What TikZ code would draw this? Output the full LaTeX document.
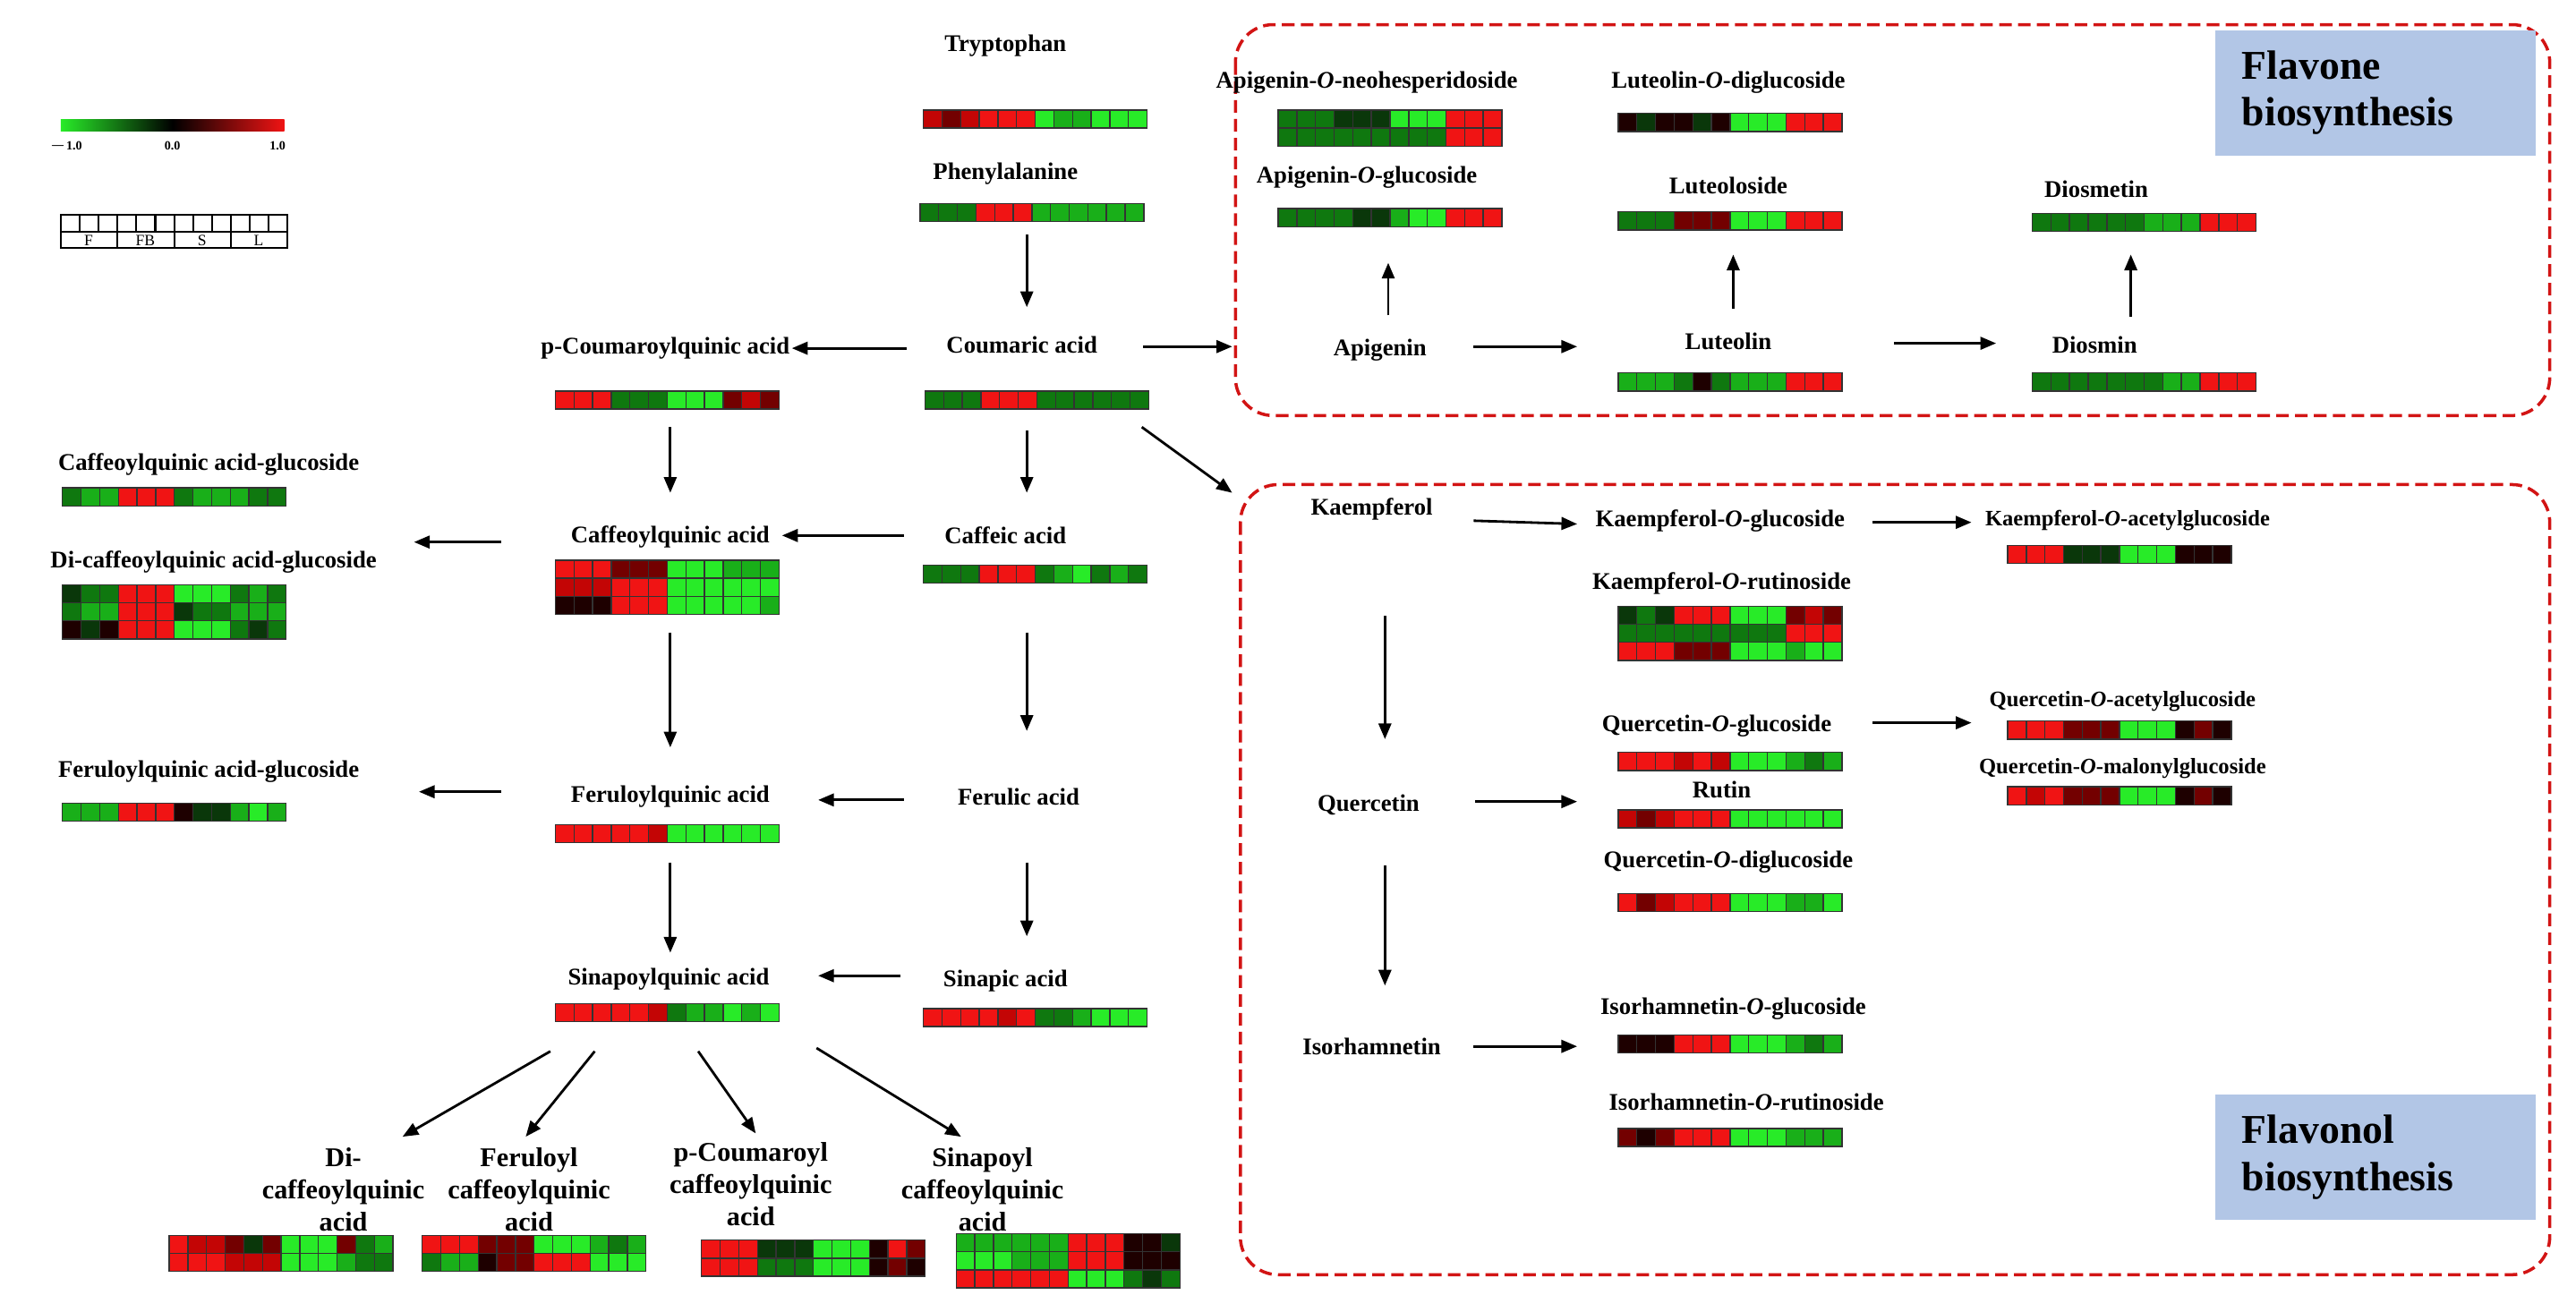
\documentclass[tikz,border=0pt]{standalone}
\usepackage{fontspec}
\setmainfont{Liberation Serif}
\usetikzlibrary{arrows.meta,calc}
\definecolor{c1}{RGB}{40,235,40}
\definecolor{c2}{RGB}{25,175,25}
\definecolor{c3}{RGB}{15,120,15}
\definecolor{c4}{RGB}{10,55,10}
\definecolor{c5}{RGB}{30,0,0}
\definecolor{c6}{RGB}{115,0,0}
\definecolor{c7}{RGB}{195,5,5}
\definecolor{c8}{RGB}{240,20,20}
\definecolor{boxred}{RGB}{210,20,20}
\definecolor{titleblue}{RGB}{178,198,230}
\newcommand\hm[3]{\foreach \c [count=\i from 0] in {#3}{\draw[hmcell,fill=c\c] (#1+\i*11.35,#2) rectangle ++(11.35,11);}}
\begin{document}
\begin{tikzpicture}[x=0.018355cm,y=-0.018355cm,
  lab/.style={font=\fontsize{7.6}{9}\selectfont\bfseries,inner sep=1pt},
  slab/.style={font=\fontsize{7}{9}\selectfont\bfseries,inner sep=1pt},
  blab/.style={font=\fontsize{8.6}{10.2}\selectfont\bfseries,align=center,inner sep=1pt},
  hmcell/.style={draw=black!80,line width=0.4pt},
  arr/.style={-{Triangle[length=5pt,width=4pt]},line width=0.8pt},
  dbox/.style={draw=boxred,dashed,line width=1pt,rounded corners=12pt,dash pattern=on 4pt off 2pt},
  tbox/.style={fill=titleblue,font=\fontsize{13}{15}\selectfont\bfseries,align=left,anchor=north west,inner xsep=0.3cm,inner ysep=0pt,minimum width=3.58cm,minimum height=1.4cm,text width=2.98cm}]
\useasboundingbox (0,0) rectangle (1568,798.2);
% legend
\shade[left color=c1,right color=c8,middle color=black] (37,73) rectangle (173,80);
\node[font=\fontsize{4}{5}\selectfont\bfseries] (lm) at (40,89) {$-$1.0};
\node[font=\fontsize{4}{5}\selectfont\bfseries] (l0) at (105,89) {0.0};
\node[font=\fontsize{4}{5}\selectfont\bfseries] (lp) at (169,89) {1.0};
\draw[line width=0.6pt] (37,131) rectangle (175,151) (37,141) -- (175,141);
\foreach \k in {1,...,11}{\draw[line width=0.6pt] (37+\k*11.5,131) -- (37+\k*11.5,141);}
\foreach \k in {1,2,3}{\draw[line width=0.6pt] (37+\k*34.5,141) -- (37+\k*34.5,151);}
\foreach \t [count=\k from 0] in {F,FB,S,L}{\node[font=\fontsize{5}{6}\selectfont] (lg\k) at (54+\k*34.5,146.5) {\t};}
% boxes
\draw[dbox] (752,15) rectangle (1552,253);
\draw[dbox] (755,295) rectangle (1552,776);
\node[tbox] (fl1) at (1348,18) {Flavone\\biosynthesis};
\node[tbox] (fl2) at (1348,666) {Flavonol\\biosynthesis};
% labels central
\node[lab] (tryp) at (612,28) {Tryptophan};
\hm{562}{67}{7,6,7,8,8,8,1,2,2,1,1,1}
\node[lab] (phe) at (612,106) {Phenylalanine};
\hm{560}{124}{3,3,3,8,8,8,2,2,2,2,2,2}
\node[lab] (coum) at (622,210) {Coumaric\ acid};
\hm{563}{238}{3,3,3,8,8,8,3,3,3,3,3,3}
\node[lab] (pcq) at (405,212) {p-Coumaroylquinic acid};
\hm{338}{238}{8,8,8,3,3,3,1,1,1,6,7,6}
\node[lab] (caf) at (612,326) {Caffeic\ acid};
\hm{562}{344}{3,3,3,8,8,8,3,2,1,3,2,3}
\node[lab] (cq) at (408,327) {Caffeoylquinic\ acid};
\hm{338}{341}{8,8,8,6,6,6,1,1,1,2,2,2}
\hm{338}{352}{7,7,7,8,8,8,1,1,1,1,1,1}
\hm{338}{363}{5,5,5,8,8,8,1,1,1,1,1,2}
\node[lab] (cqg) at (127,283) {Caffeoylquinic\ acid-glucoside};
\hm{38}{297}{3,2,2,8,8,8,3,2,2,2,3,3}
\node[lab] (dcqg) at (130,342) {Di-caffeoylquinic\ acid-glucoside};
\hm{38}{356}{4,3,3,8,8,8,1,1,1,3,2,3}
\hm{38}{367}{3,2,2,8,8,8,4,3,3,2,2,2}
\hm{38}{378}{5,4,5,8,8,8,1,1,1,3,4,3}
\node[lab] (fer) at (620,485) {Ferulic acid};
\node[lab] (fq) at (408,485) {Feruloylquinic\ acid};
\hm{338}{502}{8,8,8,8,8,7,1,1,1,1,1,1}
\node[lab] (fqg) at (127,470) {Feruloylquinic\ acid-glucoside};
\hm{38}{489}{2,2,2,8,8,8,5,4,4,2,1,2}
\node[lab] (sin) at (612,597) {Sinapic acid};
\hm{562}{614}{8,8,8,8,7,8,3,3,2,1,1,1}
\node[lab] (sq) at (407,596) {Sinapoylquinic\ acid};
\hm{338}{611}{8,8,8,8,8,7,3,2,2,1,2,1}
\node[blab] (dcq) at (209,724) {Di-\\caffeoylquinic\\acid};
\hm{103}{752}{8,7,7,6,4,6,1,1,1,6,3,2}
\hm{103}{763}{8,8,8,7,7,7,1,1,1,2,3,3}
\node[blab] (fcq) at (322,724) {Feruloyl\\caffeoylquinic\\acid};
\hm{257}{752}{8,8,8,6,6,6,1,1,1,2,3,2}
\hm{257}{763}{3,2,2,5,6,6,8,8,8,1,1,1}
\node[blab] (pcc) at (457,721) {p-Coumaroyl\\caffeoylquinic\\acid};
\hm{427}{755}{8,8,8,4,4,4,1,1,1,5,8,6}
\hm{427}{766}{8,8,8,3,3,3,1,1,1,5,6,5}
\node[blab] (scq) at (598,724) {Sinapoyl\\caffeoylquinic\\acid};
\hm{582}{751}{2,2,2,2,2,2,8,8,8,5,5,4}
\hm{582}{762}{1,1,1,2,2,2,8,8,8,5,5,5}
\hm{582}{773}{8,8,8,8,8,8,1,1,1,3,4,3}
% flavone
\node[lab] (aneo) at (832,50) {Apigenin-\textit{O}-neohesperidoside};
\hm{778}{67}{3,3,3,4,4,4,1,1,1,8,8,8}
\hm{778}{78}{3,3,3,3,3,3,3,3,3,8,8,8}
\node[lab] (aglu) at (832,108) {Apigenin-\textit{O}-glucoside};
\hm{778}{127}{3,3,3,3,4,4,2,1,1,8,8,8}
\node[lab] (api) at (840,213) {Apigenin};
\node[lab] (ldig) at (1052,50) {Luteolin-\textit{O}-diglucoside};
\hm{985}{69}{5,4,5,5,4,5,1,1,1,8,8,8}
\node[lab] (lut) at (1052,113) {Luteoloside};
\hm{985}{129}{3,3,3,6,6,6,1,1,1,8,8,8}
\node[lab] (luteolin) at (1052,208) {Luteolin};
\hm{985}{227}{2,2,2,3,5,3,2,2,2,8,8,8}
\node[lab] (dmt) at (1276,115) {Diosmetin};
\hm{1237}{130}{3,3,3,3,3,3,2,2,2,8,8,8}
\node[lab] (dmn) at (1275,210) {Diosmin};
\hm{1237}{227}{3,3,3,3,3,3,3,2,2,8,8,8}
% flavonol
\node[lab] (kae) at (835,310) {Kaempferol};
\node[lab] (kglu) at (1047,317) {Kaempferol-\textit{O}-glucoside};
\node[slab] (kac) at (1295,317) {Kaempferol-\textit{O}-acetylglucoside};
\hm{1222}{332}{8,8,8,4,4,4,1,1,1,5,5,5}
\node[lab] (krut) at (1048,355) {Kaempferol-\textit{O}-rutinoside};
\hm{985}{369}{4,3,4,8,8,8,1,1,1,6,7,6}
\hm{985}{380}{3,3,3,3,3,3,3,3,3,8,8,8}
\hm{985}{391}{8,8,8,6,6,6,1,1,1,2,1,1}
\node[lab] (que) at (833,490) {Quercetin};
\node[lab] (qglu) at (1045,442) {Quercetin-\textit{O}-glucoside};
\hm{985}{458}{8,8,8,7,8,7,1,1,1,2,3,2}
\node[lab] (rut) at (1048,481) {Rutin};
\hm{985}{493}{7,6,7,8,8,8,1,1,1,1,1,1}
\node[lab] (qdig) at (1052,525) {Quercetin-\textit{O}-diglucoside};
\hm{985}{544}{8,6,7,8,8,8,1,1,1,2,2,1}
\node[slab] (qac) at (1292,427) {Quercetin-\textit{O}-acetylglucoside};
\hm{1222}{439}{8,8,8,6,6,6,1,1,1,5,6,5}
\node[slab] (qmal) at (1292,468) {Quercetin-\textit{O}-malonylglucoside};
\hm{1222}{479}{8,7,8,6,6,6,1,1,1,5,6,5}
\node[lab] (iso) at (835,637) {Isorhamnetin};
\node[lab] (iglu) at (1055,614) {Isorhamnetin-\textit{O}-glucoside};
\hm{985}{630}{5,5,5,8,8,8,1,1,1,2,3,2}
\node[lab] (irut) at (1063,671) {Isorhamnetin-\textit{O}-rutinoside};
\hm{985}{687}{6,5,6,8,8,8,1,1,1,2,2,2}
% arrows
\draw[arr] (625,143) -- (625,187);
\draw[arr] (552,212) -- (482,212);
\draw[arr] (696,211) -- (750,211);
\draw[arr] (695,260) -- (750,300);
\draw[arr] (625,262) -- (625,300);
\draw[arr] (550,326) -- (476,326);
\draw[arr] (408,260) -- (408,300);
\draw[arr] (305,330) -- (252,330);
\draw[arr] (408,385) -- (408,455);
\draw[arr] (625,385) -- (625,445);
\draw[arr] (550,487) -- (498,487);
\draw[arr] (305,482) -- (255,482);
\draw[arr] (408,525) -- (408,580);
\draw[arr] (625,525) -- (625,570);
\draw[arr] (548,594) -- (498,594);
\draw[arr] (335,640) -- (245,692);
\draw[arr] (362,640) -- (320,692);
\draw[arr] (425,640) -- (460,690);
\draw[arr] (497,638) -- (585,692);
\draw[arr] (845,192) -- (845,160);
\draw[arr] (897,211) -- (960,211);
\draw[arr] (1055,188) -- (1055,155);
\draw[arr] (1153,209) -- (1215,209);
\draw[arr] (1297,193) -- (1297,155);
\draw[arr] (897,317) -- (960,319);
\draw[arr] (1140,318) -- (1200,318);
\draw[arr] (843,375) -- (843,450);
\draw[arr] (898,488) -- (960,488);
\draw[arr] (1140,440) -- (1200,440);
\draw[arr] (843,527) -- (843,600);
\draw[arr] (897,637) -- (960,637);
\end{tikzpicture}
\end{document}
